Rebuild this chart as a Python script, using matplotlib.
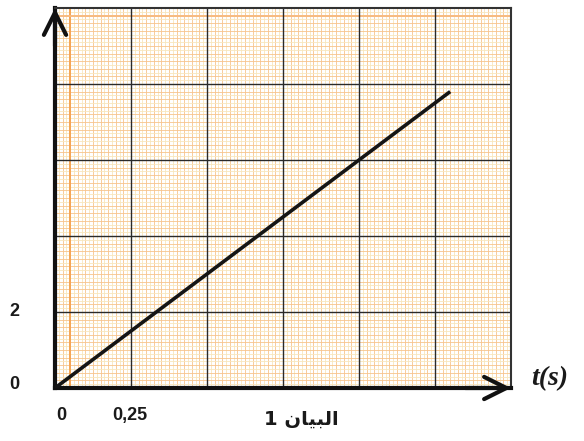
import numpy as np
import matplotlib
matplotlib.use("Agg")
import matplotlib.pyplot as plt

# graph data
t_values = [0.0, 1.3]
y_values = [0.0, 7.8]

x_major = [0, 0.25, 0.5, 0.75, 1.0, 1.25, 1.5]
y_major = [0, 2, 4, 6, 8, 10]
x_tick_labels = ["0", "0,25"]
y_tick_labels = ["0", "2"]

# Arabic "البيان" in presentation forms, visual order (left to right)
caption = "1 " + "\uFEE5\uFE8E\uFEF4\uFE92\uFEDF\uFE8D"

fig = plt.figure(figsize=(5.84, 4.41), dpi=100)
ax = fig.add_axes([55 / 584, 53 / 441, 456 / 584, 380 / 441])
ax.set_xlim(0, 1.5)
ax.set_ylim(0, 10)

# millimetre paper: fine yellow/orange lines, then black major lines
fine_x = np.arange(0, 1.5001, 0.25 / 20)
fine_y = np.arange(0, 10.001, 2 / 20)
for i, x in enumerate(fine_x):
    c = "#f7c48c" if i % 2 == 0 else "#f8e6bd"
    ax.axvline(x, color=c, lw=0.6, zorder=1)
for i, y in enumerate(fine_y):
    c = "#f7c48c" if i % 2 == 0 else "#f8e6bd"
    ax.axhline(y, color=c, lw=0.6, zorder=1)

# a couple of stronger orange lines on the paper
ax.axvline(0.05, color="#f5a555", lw=1.4, zorder=1)
ax.axhline(9.8, color="#f7bb80", lw=1.4, zorder=1)

for x in x_major[1:-1]:
    ax.axvline(x, color="#2a2a2a", lw=1.0, zorder=2)
for y in y_major[1:-1]:
    ax.axhline(y, color="#2a2a2a", lw=1.0, zorder=2)

ax.plot(t_values, y_values, color="#151515", lw=2.6, zorder=4,
        solid_capstyle="butt")

ax.set_xticks([])
ax.set_yticks([])
for side in ["top", "right"]:
    ax.spines[side].set_linewidth(1.5)
    ax.spines[side].set_color("#333333")
for side in ["left", "bottom"]:
    ax.spines[side].set_linewidth(3)
    ax.spines[side].set_color("#111111")

# axis arrows
ax.annotate("", xy=(0, 1.0), xytext=(0, 0.9), xycoords="axes fraction",
            arrowprops=dict(arrowstyle="->,head_length=0.8,head_width=0.4",
                            lw=3, color="#111111", mutation_scale=20,
                            shrinkA=0, shrinkB=0),
            annotation_clip=False, zorder=6)
ax.annotate("", xy=(1.0, 0), xytext=(0.9, 0), xycoords="axes fraction",
            arrowprops=dict(arrowstyle="->,head_length=0.8,head_width=0.4",
                            lw=3, color="#111111", mutation_scale=20,
                            shrinkA=0, shrinkB=0),
            annotation_clip=False, zorder=6)

lab = dict(fontsize=13, fontweight="bold", family="Liberation Sans",
           color="#1a1a1a")
ax.text(-0.135, y_major[1], y_tick_labels[1], ha="center", va="center",
        clip_on=False, **lab)
ax.text(-0.135, y_major[0] + 0.1, y_tick_labels[0], ha="center",
        va="center", clip_on=False, **lab)
ax.text(0.022, -0.72, x_tick_labels[0], ha="center", va="center",
        clip_on=False, **lab)
ax.text(0.247, -0.72, x_tick_labels[1], ha="center", va="center",
        clip_on=False, **lab)

ax.text(0.81, -0.82, caption, ha="center", va="center", fontsize=14,
        fontweight="bold", family=["DejaVu Sans"], color="#1a1a1a",
        clip_on=False)

ax.text(1.628, 0.26, "t(s)", ha="center", va="center", fontsize=20,
        fontweight="bold", fontstyle="italic", family="Liberation Serif",
        color="#1a1a1a", clip_on=False)

fig.savefig("out.png", dpi=100)
